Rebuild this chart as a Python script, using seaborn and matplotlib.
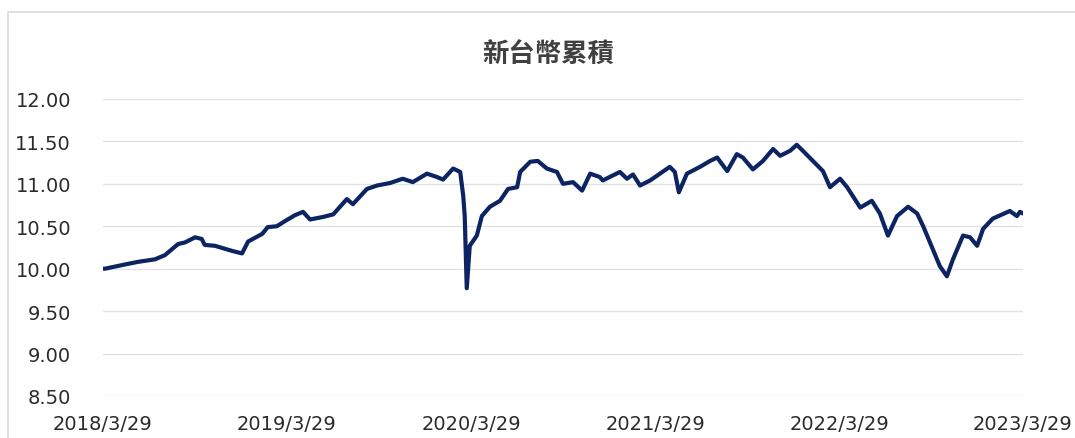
import pandas as pd
import matplotlib
matplotlib.use('Agg')
import matplotlib.pyplot as plt
from matplotlib.patches import Rectangle
import seaborn as sns

# values
dates = ['2018-03-29', '2018-04-02', '2018-05-12', '2018-06-06', '2018-07-10', '2018-07-30',
         '2018-08-25', '2018-09-08', '2018-09-28', '2018-10-11', '2018-10-17', '2018-11-06',
         '2018-12-10', '2018-12-30', '2019-01-11', '2019-02-08', '2019-02-19', '2019-03-09',
         '2019-03-25', '2019-04-14', '2019-04-30', '2019-05-14', '2019-06-09', '2019-06-29',
         '2019-07-26', '2019-08-07', '2019-09-04', '2019-09-24', '2019-10-20', '2019-11-14',
         '2019-12-04', '2020-01-01', '2020-01-21', '2020-02-02', '2020-02-22', '2020-03-07',
         '2020-03-13', '2020-03-16', '2020-03-20', '2020-03-26', '2020-04-09', '2020-04-19',
         '2020-05-05', '2020-05-25', '2020-06-10', '2020-06-28', '2020-07-04', '2020-07-24',
         '2020-08-08', '2020-08-26', '2020-09-15', '2020-09-27', '2020-10-17', '2020-11-04',
         '2020-11-20', '2020-12-09', '2020-12-15', '2021-01-18', '2021-02-01', '2021-02-13',
         '2021-02-27', '2021-03-19', '2021-04-27', '2021-05-07', '2021-05-15', '2021-05-31',
         '2021-06-26', '2021-07-16', '2021-07-30', '2021-08-19', '2021-09-07', '2021-09-19',
         '2021-10-09', '2021-10-29', '2021-11-18', '2021-12-02', '2021-12-22', '2022-01-04',
         '2022-01-16', '2022-02-05', '2022-02-25', '2022-03-11', '2022-03-31', '2022-04-14',
         '2022-05-10', '2022-06-02', '2022-06-18', '2022-07-04', '2022-07-22', '2022-08-13',
         '2022-08-31', '2022-09-12', '2022-10-01', '2022-10-15', '2022-10-29', '2022-11-10',
         '2022-11-30', '2022-12-14', '2022-12-28', '2023-01-09', '2023-01-28', '2023-03-03',
         '2023-03-17', '2023-03-23', '2023-03-29']
values = [10.00, 10.00, 10.05, 10.08, 10.11, 10.16,
          10.29, 10.31, 10.37, 10.35, 10.28, 10.27,
          10.21, 10.18, 10.32, 10.41, 10.49, 10.50,
          10.56, 10.63, 10.67, 10.58, 10.61, 10.64,
          10.82, 10.76, 10.94, 10.98, 11.01, 11.06,
          11.02, 11.12, 11.08, 11.05, 11.18, 11.14,
          10.86, 10.62, 9.77, 10.27, 10.39, 10.62,
          10.73, 10.80, 10.94, 10.96, 11.14, 11.26,
          11.27, 11.18, 11.14, 11.00, 11.02, 10.92,
          11.12, 11.08, 11.04, 11.14, 11.06, 11.11,
          10.98, 11.04, 11.20, 11.14, 10.90, 11.12,
          11.20, 11.27, 11.31, 11.15, 11.35, 11.31,
          11.17, 11.27, 11.41, 11.33, 11.39, 11.46,
          11.39, 11.27, 11.15, 10.96, 11.06, 10.96,
          10.72, 10.80, 10.65, 10.39, 10.62, 10.73,
          10.65, 10.50, 10.23, 10.03, 9.91, 10.11,
          10.39, 10.37, 10.27, 10.47, 10.59, 10.68,
          10.62, 10.67, 10.65]
tick_dates = ['2018-03-29', '2019-03-29', '2020-03-29', '2021-03-29', '2022-03-29', '2023-03-29']
tick_labels = ['2018/3/29', '2019/3/29', '2020/3/29', '2021/3/29', '2022/3/29', '2023/3/29']
y_ticks = [8.5, 9.0, 9.5, 10.0, 10.5, 11.0, 11.5, 12.0]

df = pd.DataFrame({'date': pd.to_datetime(dates), 'value': values})

sns.set_style('white')
plt.rcParams['font.family'] = ['DejaVu Sans']

fig = plt.figure(figsize=(10.75, 4.39), dpi=100)
ax = fig.add_axes([0.0958, 0.0957, 0.8558, 0.6766])

# light frame round the chart
fig.patches.append(Rectangle((8 / 1075, -0.05), 1.2, 1 - 13 / 439 + 0.05,
                             transform=fig.transFigure, fill=False,
                             edgecolor='#d9d9d9', linewidth=1.2))

sns.lineplot(data=df, x='date', y='value', ax=ax, color='#0c2461', linewidth=3.0)

ax.set_xlim(pd.Timestamp('2018-03-29'), pd.Timestamp('2023-03-29'))
ax.set_ylim(8.5, 12.0)
ax.set_yticks(y_ticks)
ax.set_yticklabels([f'{v:.2f}' for v in y_ticks])
ax.set_xticks(pd.to_datetime(tick_dates))
ax.set_xticklabels(tick_labels)
ax.grid(axis='y', color='#e3e3e3', linewidth=1)
ax.grid(axis='x', visible=False)
for s in ax.spines.values():
    s.set_visible(False)
ax.tick_params(axis='y', length=0, pad=23, labelsize=14, labelcolor='#2b2b2b')
ax.tick_params(axis='x', length=3, color='#e3e3e3', pad=10, labelsize=14, labelcolor='#2b2b2b')
ax.set_xlabel('')
ax.set_ylabel('')

fig.text(0.51, 0.873, '新台幣累積', ha='center', va='center', fontsize=19,
         color='#404040', fontweight='bold', family=['Noto Sans CJK TC', 'DejaVu Sans'])

fig.savefig('out.png', dpi=100)
